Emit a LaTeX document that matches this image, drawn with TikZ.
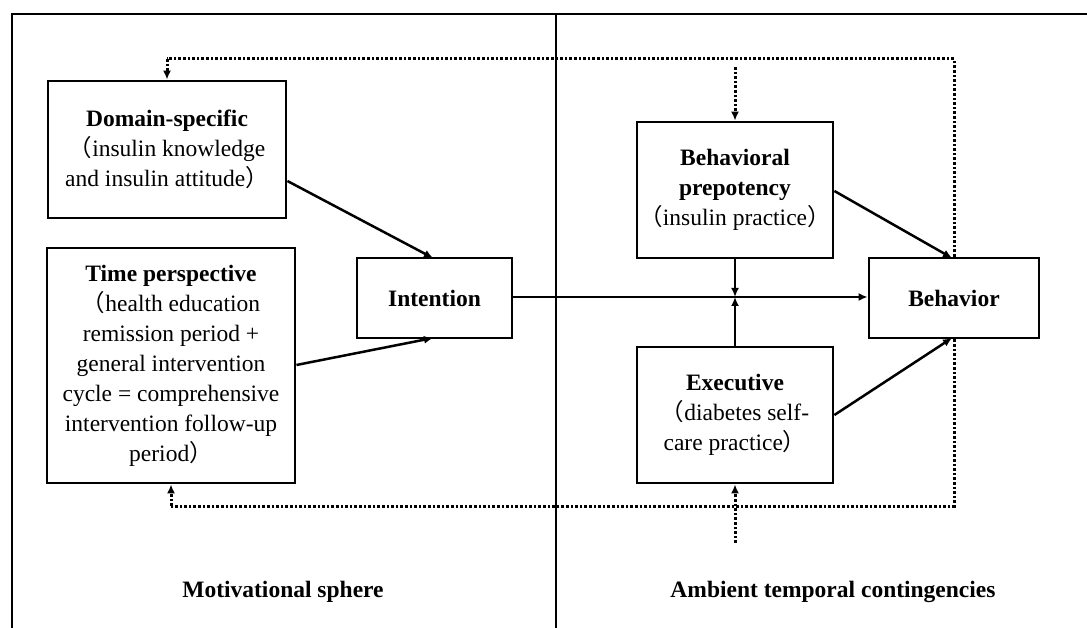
\documentclass[tikz,border=0pt]{standalone}
\usepackage{fontspec}
\setmainfont{Liberation Serif}
\newfontfamily\cjkfont{Noto Sans CJK SC}
\newcommand{\fwl}{{\cjkfont （}}
\newcommand{\fwr}{{\cjkfont ）}}
\usetikzlibrary{arrows.meta}
\begin{document}
\begin{tikzpicture}[x=1pt,y=-1pt,
  box/.style={draw, line width=2.8pt, inner sep=0pt, align=center,
    font=\fontsize{23.5pt}{30pt}\selectfont},
  conn/.style={line width=2.5pt, -{Latex[length=9pt,width=8pt]}},
  dots/.style={line width=3pt, dash pattern=on 2.6pt off 2pt},
  dotarrow/.style={dots, -{Latex[length=9pt,width=8pt]}},
  area/.style={font=\fontsize{23.5pt}{30pt}\selectfont\bfseries}]
\useasboundingbox (0,0) rectangle (1087,628);
% frame
\draw[line width=2.8pt] (12,628) -- (12,14) -- (1087,14);
\draw[line width=2.6pt] (556,14) -- (556,628);
% boxes
\node[box, minimum width=238pt, minimum height=137pt] (dom) at (167,149.5)
  {\textbf{Domain-specific}\\ \fwl insulin knowledge\\ and insulin attitude\fwr};
\node[box, minimum width=248pt, minimum height=235pt] (time) at (171,365.5)
  {\textbf{Time perspective}\\ \fwl health education\\ remission period +\\ general intervention\\ cycle = comprehensive\\ intervention follow-up\\ period\fwr};
\node[box, minimum width=155pt, minimum height=80pt] (int) at (434.5,298)
  {\textbf{Intention}};
\node[box, minimum width=196pt, minimum height=136pt] (pre) at (735,190)
  {\textbf{Behavioral}\\ \textbf{prepotency}\\ \fwl insulin practice\fwr};
\node[box, minimum width=170pt, minimum height=80pt] (beh) at (954,298)
  {\textbf{Behavior}};
\node[box, minimum width=196pt, minimum height=136pt] (exe) at (735,415)
  {\textbf{Executive}\\ \fwl diabetes self-\\ care practice\fwr};
% area labels
\node[area] (mot) at (283,592) {Motivational sphere};
\node[area] (amb) at (833,592) {Ambient temporal contingencies};
% solid connectors
\coordinate (j) at (735,297);
\draw[conn] (dom.east |- 0,181) -- (433,258);
\draw[conn] (time.east |- 0,365) -- (433,338);
\draw[conn] (int.east |- 0,297) -- (beh.west |- 0,297);
\draw[conn] (pre.south) -- (j);
\draw[conn] (exe.north) -- (j);
\draw[conn] (pre.east |- 0,191) -- (952,258);
\draw[conn] (exe.east |- 0,415) -- (952,338);
% dotted feedback
\coordinate (tr) at (954,59);
\coordinate (tl) at (167,59);
\coordinate (br) at (954,506);
\coordinate (bl) at (171,506);
\coordinate (ptop) at (735,67);
\coordinate (ebot) at (735,543);
\draw[dots] (beh.north -| tr) -- (tr) -- (tl);
\draw[dotarrow] (tl) -- (dom.north -| tl);
\draw[dotarrow] (ptop) -- (pre.north);
\draw[dots] (beh.south -| br) -- (br) -- (bl);
\draw[dotarrow] (bl) -- (time.south -| bl);
\draw[dotarrow] (ebot) -- (exe.south);
\end{tikzpicture}
\end{document}
